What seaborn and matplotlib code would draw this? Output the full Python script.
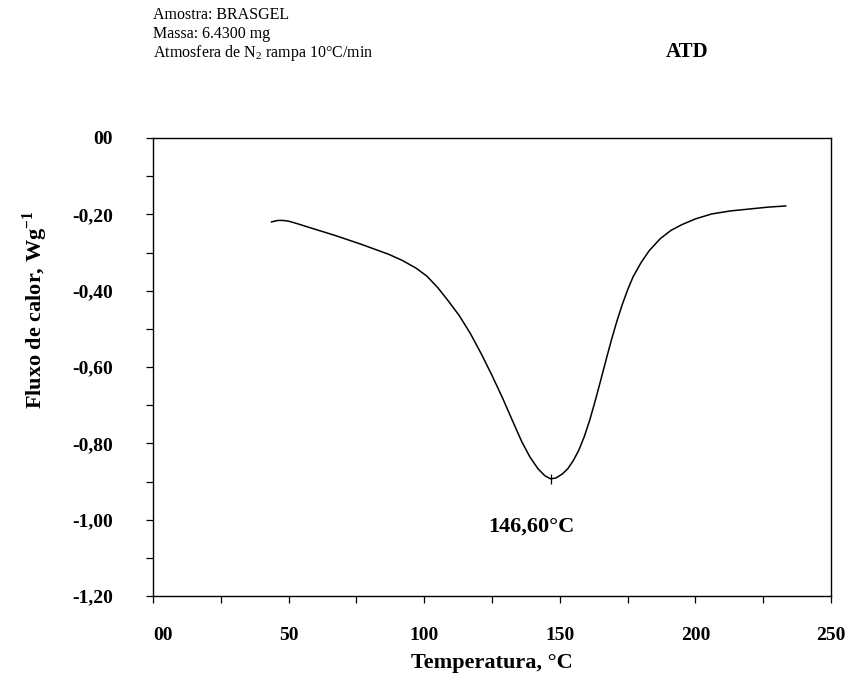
import matplotlib
matplotlib.use("Agg")
import matplotlib.pyplot as plt
from matplotlib.ticker import MultipleLocator
import numpy as np
import pandas as pd
import seaborn as sns

# DTA curve (temperature in °C, heat flow in W/g)
temperature = [43.6, 46, 48, 50, 53, 57, 62, 67, 72, 77, 82, 87, 92, 97, 101,
               105, 109, 113, 117, 121, 125, 129, 133, 136, 139, 142, 144.5,
               146.6, 148.5, 151, 153, 155, 157, 159, 161, 163, 165, 167, 169,
               171, 173, 175, 177, 180, 183, 187, 191, 195, 200, 206, 213, 220,
               227, 233.4]
heat_flow = [-0.220, -0.216, -0.216, -0.218, -0.224, -0.233, -0.244, -0.255,
             -0.267, -0.279, -0.292, -0.305, -0.321, -0.341, -0.362, -0.392,
             -0.428, -0.466, -0.512, -0.565, -0.622, -0.683, -0.748, -0.796,
             -0.836, -0.867, -0.885, -0.893, -0.891, -0.880, -0.866, -0.845,
             -0.818, -0.783, -0.740, -0.690, -0.637, -0.583, -0.530, -0.481,
             -0.437, -0.398, -0.364, -0.326, -0.295, -0.264, -0.242, -0.227,
             -0.212, -0.199, -0.191, -0.186, -0.181, -0.178]

peak_t = 146.6
peak_y = -0.893
peak_label = "146,60°C"

x_ticks = [0, 50, 100, 150, 200, 250]
x_labels = ["00", "50", "100", "150", "200", "250"]
y_ticks = [0.0, -0.2, -0.4, -0.6, -0.8, -1.0, -1.2]
y_labels = ["00", "-0,20", "-0,40", "-0,60", "-0,80", "-1,00", "-1,20"]

header = ["Amostra: BRASGEL", "Massa: 6.4300 mg",
          "Atmosfera de N$_2$ rampa 10°C/min"]

sns.set_theme(style="white", rc={"text.color": "black",
                                 "axes.labelcolor": "black",
                                 "xtick.color": "black",
                                 "ytick.color": "black"})
plt.rcParams["font.family"] = ["Liberation Serif", "DejaVu Serif"]
plt.rcParams["mathtext.fontset"] = "custom"
plt.rcParams["mathtext.rm"] = "Liberation Serif"
plt.rcParams["mathtext.bf"] = "Liberation Serif:bold"

df = pd.DataFrame({"T": temperature, "q": heat_flow})

fig = plt.figure(figsize=(8.47, 6.95), dpi=100)
ax = fig.add_axes([153 / 847, 1 - 596 / 695, 678 / 847, 458 / 695])

sns.lineplot(data=df, x="T", y="q", color="black", lw=1.1, ax=ax)
ax.plot([peak_t], [peak_y], marker="|", color="black", ms=7, mew=0.9)
ax.text(139.6, -1.019, peak_label, ha="center", va="center",
        fontsize=16, fontweight="bold")

ax.set_xlim(0, 250)
ax.set_ylim(-1.2, 0)
ax.set_xticks(x_ticks, x_labels)
ax.set_yticks(y_ticks, y_labels)
ax.xaxis.set_minor_locator(MultipleLocator(25))
ax.yaxis.set_minor_locator(MultipleLocator(0.1))
ax.tick_params(which="both", direction="out", length=5, width=0.9,
               color="black", bottom=True, left=True, top=False, right=False)
ax.tick_params(axis="y", pad=24, labelsize=14)
ax.tick_params(axis="x", pad=17, labelsize=14)
for lab in ax.get_xticklabels() + ax.get_yticklabels():
    lab.set_fontweight("bold")
ax.get_xticklabels()[0].set_horizontalalignment("left")
for sp in ax.spines.values():
    sp.set_color("black")
    sp.set_linewidth(1.0)

ax.set_xlabel("")
ax.set_ylabel("")
fig.text(492 / 847, 1 - 663 / 695, "Temperatura, °C", ha="center", va="center",
         fontsize=16, fontweight="bold")
fig.text(35 / 847, 1 - 310 / 695, r"Fluxo de calor, Wg$^{\mathbf{-1}}$",
         ha="center", va="center", rotation=90, fontsize=16, fontweight="bold")

for i, line in enumerate(header):
    fig.text(153 / 847, 1 - (15 + 19 * i) / 695, line, ha="left", va="center",
             fontsize=11.5)
fig.text(687 / 847, 1 - 52 / 695, "ATD", ha="center", va="center",
         fontsize=15, fontweight="bold")

fig.savefig("out.png", dpi=100)
